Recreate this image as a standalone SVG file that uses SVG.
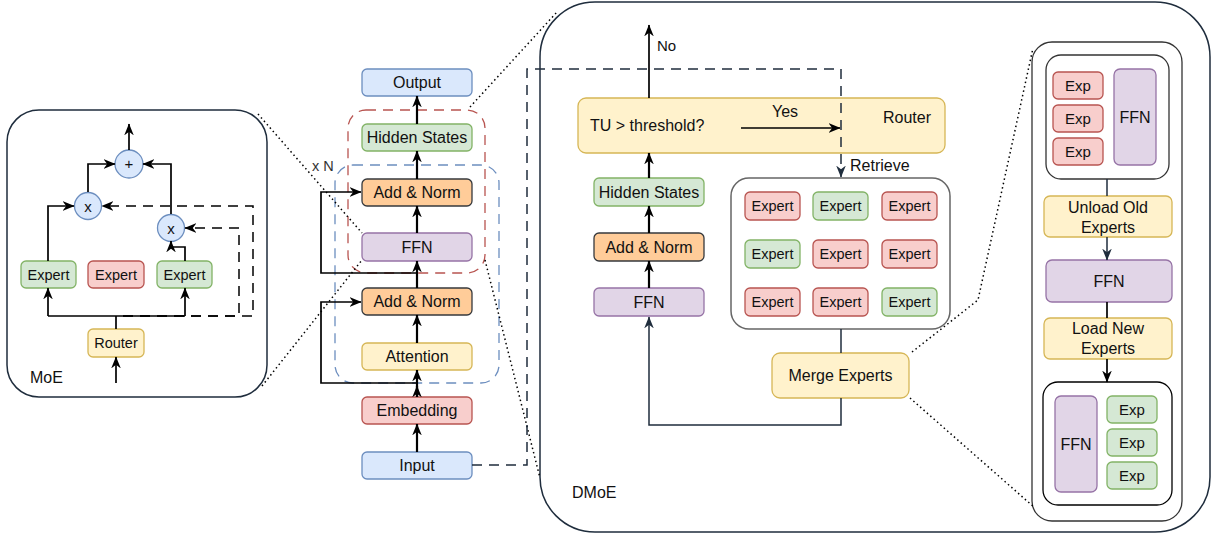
<svg xmlns="http://www.w3.org/2000/svg" width="1214" height="535" viewBox="0 0 1214 535">
<defs>
<marker id="ah" viewBox="0 0 10 10" refX="9.5" refY="5" markerWidth="12" markerHeight="12" markerUnits="userSpaceOnUse" orient="auto"><path d="M0,1 L10,5 L0,9 L3,5 z" fill="#000"/></marker>
<marker id="ahn" viewBox="0 0 10 10" refX="9.5" refY="5" markerWidth="12" markerHeight="12" markerUnits="userSpaceOnUse" orient="auto"><path d="M0,1 L10,5 L0,9 L3,5 z" fill="#1f2d3d"/></marker>
</defs>
<style>
text{font-family:"Liberation Sans",Arial,sans-serif;fill:#111;}
.c{text-anchor:middle;dominant-baseline:central;}
.f16{font-size:16px;}
.f15{font-size:15px;}
.f14{font-size:14.5px;}
.blue{fill:#dae8fc;stroke:#6c8ebf;stroke-width:1.3;}
.green{fill:#d5e8d4;stroke:#82b366;stroke-width:1.3;}
.red{fill:#f8cecc;stroke:#b85450;stroke-width:1.3;}
.orange{fill:#ffcc99;stroke:#36393d;stroke-width:1.3;}
.purple{fill:#e1d5e7;stroke:#9673a6;stroke-width:1.3;}
.yellow{fill:#fff2cc;stroke:#d6b656;stroke-width:1.3;}
.ln{fill:none;stroke:#000;stroke-width:1.7;}
.lnb{fill:none;stroke:#000;stroke-width:2.2;}
.nav{fill:none;stroke:#1f2d3d;stroke-width:1.5;}
.dash{fill:none;stroke:#000;stroke-width:1.5;stroke-dasharray:10 7;}
.dashn{fill:none;stroke:#1f2d3d;stroke-width:1.5;stroke-dasharray:10 7;}
.dot{fill:none;stroke:#000;stroke-width:1.5;stroke-dasharray:1.5 3;}
.panel{fill:#fff;stroke:#1f2d3d;stroke-width:1.5;}
</style>

<!-- MoE panel -->
<g id="moe">
<rect x="7" y="110" width="260" height="287" rx="32" class="panel"/>
<text x="30" y="377" class="f16" dominant-baseline="central">MoE</text>
</g>
<g id="moe-router"><rect x="88" y="329" width="56" height="28" rx="5" class="yellow"/><text x="116" y="343" class="c f14">Router</text></g>
<g id="moe-exp1"><rect x="21" y="261" width="55" height="27" rx="5" class="green"/><text x="48.5" y="274.5" class="c f14">Expert</text></g>
<g id="moe-exp2"><rect x="88" y="261" width="56" height="27" rx="5" class="red"/><text x="116" y="274.5" class="c f14">Expert</text></g>
<g id="moe-exp3"><rect x="157" y="261" width="55" height="27" rx="5" class="green"/><text x="184.5" y="274.5" class="c f14">Expert</text></g>
<g id="moe-mul1"><circle cx="88" cy="206" r="13.5" class="blue"/><text x="88" y="206" class="c f15">x</text></g>
<g id="moe-mul2"><circle cx="171" cy="228" r="13.5" class="blue"/><text x="171" y="228" class="c f15">x</text></g>
<g id="moe-add"><circle cx="129" cy="164" r="14" class="blue"/><text x="129" y="163" class="c f15">+</text></g>

<!-- Central column -->
<g id="c-output"><rect x="362" y="69" width="110" height="27" rx="5" class="blue"/><text x="417" y="82.5" class="c f16">Output</text></g>
<g id="c-hidden"><rect x="362" y="124" width="110" height="27" rx="5" class="green"/><text x="417" y="137.5" class="c f16">Hidden States</text></g>
<g id="c-addnorm2"><rect x="362" y="179" width="110" height="27" rx="5" class="orange"/><text x="417" y="192.5" class="c f16">Add &amp; Norm</text></g>
<g id="c-ffn"><rect x="362" y="233" width="110" height="28" rx="5" class="purple"/><text x="417" y="247" class="c f16">FFN</text></g>
<g id="c-addnorm1"><rect x="362" y="288" width="110" height="27" rx="5" class="orange"/><text x="417" y="301.5" class="c f16">Add &amp; Norm</text></g>
<g id="c-attn"><rect x="362" y="343" width="110" height="27" rx="5" class="yellow"/><text x="417" y="356.5" class="c f16">Attention</text></g>
<g id="c-embed"><rect x="362" y="397" width="110" height="27" rx="5" class="red"/><text x="417" y="410.5" class="c f16">Embedding</text></g>
<g id="c-input"><rect x="362" y="452" width="110" height="27" rx="5" class="blue"/><text x="417" y="465.5" class="c f16">Input</text></g>
<g id="c-groups">
<rect x="348" y="110" width="137" height="163" rx="18" fill="none" stroke="#b85450" stroke-width="1.3" stroke-dasharray="10 7"/>
<rect x="335" y="165" width="164" height="218" rx="18" fill="none" stroke="#6c8ebf" stroke-width="1.3" stroke-dasharray="10 7"/>
<text x="312" y="166" class="f14" dominant-baseline="central" style="fill:#333">x N</text>
</g>

<!-- DMoE panel -->
<g id="dmoe">
<rect x="540" y="2" width="670" height="530" rx="55" class="panel"/>
<text x="572" y="492" class="f16" dominant-baseline="central">DMoE</text>
</g>
<g id="d-router"><rect x="578" y="98" width="367" height="55" rx="8" class="yellow"/>
<text x="590" y="125" class="f16" dominant-baseline="central">TU &gt; threshold?</text>
<text x="883" y="117" class="f16" dominant-baseline="central">Router</text>
</g>
<g id="d-hidden"><rect x="594" y="178" width="110" height="28" rx="5" class="green"/><text x="649" y="192" class="c f16">Hidden States</text></g>
<g id="d-addnorm"><rect x="594" y="233" width="110" height="28" rx="5" class="orange"/><text x="649" y="247" class="c f16">Add &amp; Norm</text></g>
<g id="d-ffn"><rect x="594" y="288" width="110" height="28" rx="5" class="purple"/><text x="649" y="302" class="c f16">FFN</text></g>
<g id="d-experts">
<rect x="731" y="178" width="219" height="151" rx="18" fill="#fff" stroke="#666" stroke-width="1.5"/>
<rect x="745" y="192" width="55" height="28" rx="5" class="red"/><text x="772.5" y="206" class="c f14">Expert</text>
<rect x="813" y="192" width="55" height="28" rx="5" class="green"/><text x="840.5" y="206" class="c f14">Expert</text>
<rect x="882" y="192" width="55" height="28" rx="5" class="red"/><text x="909.5" y="206" class="c f14">Expert</text>
<rect x="745" y="240" width="55" height="28" rx="5" class="green"/><text x="772.5" y="254" class="c f14">Expert</text>
<rect x="813" y="240" width="55" height="28" rx="5" class="red"/><text x="840.5" y="254" class="c f14">Expert</text>
<rect x="882" y="240" width="55" height="28" rx="5" class="red"/><text x="909.5" y="254" class="c f14">Expert</text>
<rect x="745" y="288" width="55" height="28" rx="5" class="red"/><text x="772.5" y="302" class="c f14">Expert</text>
<rect x="813" y="288" width="55" height="28" rx="5" class="red"/><text x="840.5" y="302" class="c f14">Expert</text>
<rect x="882" y="288" width="55" height="28" rx="5" class="green"/><text x="909.5" y="302" class="c f14">Expert</text>
</g>
<g id="d-merge"><rect x="772" y="353" width="137" height="45" rx="8" class="yellow"/><text x="840.5" y="375.5" class="c f16">Merge Experts</text></g>

<!-- Right panel -->
<g id="r-panel"><rect x="1032" y="42" width="150" height="479" rx="20" fill="#fff" stroke="#333" stroke-width="1.3"/></g>
<g id="r-before">
<rect x="1046" y="55" width="123" height="124" rx="15" fill="#fff" stroke="#333" stroke-width="1.3"/>
<rect x="1053" y="72" width="50" height="27" rx="5" class="red"/><text x="1078" y="85.5" class="c f15">Exp</text>
<rect x="1053" y="105" width="50" height="27" rx="5" class="red"/><text x="1078" y="118.5" class="c f15">Exp</text>
<rect x="1053" y="138" width="50" height="27" rx="5" class="red"/><text x="1078" y="151.5" class="c f15">Exp</text>
<rect x="1114" y="69" width="42" height="96" rx="6" class="purple"/><text x="1135" y="117" class="c f16">FFN</text>
</g>
<g id="r-unload"><rect x="1044" y="196" width="128" height="41" rx="6" class="yellow"/><text x="1108" y="207" class="c f16">Unload Old</text><text x="1108" y="227" class="c f16">Experts</text></g>
<g id="r-ffn"><rect x="1046" y="260" width="126" height="42" rx="6" class="purple"/><text x="1109" y="281" class="c f16">FFN</text></g>
<g id="r-load"><rect x="1044" y="318" width="128" height="41" rx="6" class="yellow"/><text x="1108" y="328.5" class="c f16">Load New</text><text x="1108" y="348.5" class="c f16">Experts</text></g>
<g id="r-after">
<rect x="1043" y="382" width="129" height="123" rx="15" fill="#fff" stroke="#000" stroke-width="1.3"/>
<rect x="1055" y="396" width="42" height="96" rx="6" class="purple"/><text x="1076" y="444" class="c f16">FFN</text>
<rect x="1107" y="396" width="50" height="27" rx="5" class="green"/><text x="1132" y="409.5" class="c f15">Exp</text>
<rect x="1107" y="429" width="50" height="27" rx="5" class="green"/><text x="1132" y="442.5" class="c f15">Exp</text>
<rect x="1107" y="462" width="50" height="27" rx="5" class="green"/><text x="1132" y="475.5" class="c f15">Exp</text>
</g>

<!-- Connectors -->
<g id="connectors">
<!-- MoE -->
<path d="M116,383 V357" class="ln" marker-end="url(#ah)"/>
<path d="M116,329 V316" class="ln"/>
<path d="M48,316 H185" class="ln"/>
<path d="M48,316 V288" class="ln" marker-end="url(#ah)"/>
<path d="M185,316 V288" class="ln" marker-end="url(#ah)"/>
<path d="M48,261 V206 H74" class="ln" marker-end="url(#ah)"/>
<path d="M185,261 V247 H171 V241" class="ln" marker-end="url(#ah)"/>
<path d="M88,192 V164 H115" class="ln" marker-end="url(#ah)"/>
<path d="M171,214 V164 H143" class="ln" marker-end="url(#ah)"/>
<path d="M129,150 V124" class="ln" marker-end="url(#ah)"/>
<path d="M123,316 H253 V206 H102" class="dash" marker-end="url(#ah)"/>
<path d="M123,316 H239 V228 H185" class="dash" marker-end="url(#ah)"/>
<!-- central -->
<path d="M417,452 V424" class="lnb" marker-end="url(#ah)"/>
<path d="M417,397 V370" class="lnb" marker-end="url(#ah)"/>
<path d="M417,397 V386" class="lnb" marker-end="url(#ah)"/>
<path d="M417,343 V315" class="lnb" marker-end="url(#ah)"/>
<path d="M417,288 V261" class="lnb" marker-end="url(#ah)"/>
<path d="M417,233 V206" class="lnb" marker-end="url(#ah)"/>
<path d="M417,179 V151" class="lnb" marker-end="url(#ah)"/>
<path d="M417,124 V96" class="lnb" marker-end="url(#ah)"/>
<path d="M417,383 H321 V302 H361" class="ln" marker-end="url(#ah)"/>
<path d="M417,273 H321 V192 H361" class="ln" marker-end="url(#ah)"/>
<!-- dotted zoom lines -->
<path d="M258,114 L362,233" class="dot"/>
<path d="M262,386 L362,260" class="dot"/>
<path d="M470,107 L557,12" class="dot"/>
<path d="M485,260 L540,478" class="dot"/>
<path d="M912,352 L978,300 L1033,48" class="dot"/>
<path d="M910,398 L1035,508" class="dot"/>
<!-- input to DMoE -->
<path d="M472,465 H527 V69 H841 V177" class="dashn" marker-end="url(#ahn)"/>
<!-- DMoE -->
<path d="M741,128 H840" class="ln" marker-end="url(#ah)"/>
<text x="785" y="111" class="c f16">Yes</text>
<path d="M649,98 V25" class="ln" marker-end="url(#ah)"/>
<text x="657" y="45" class="f15" dominant-baseline="central">No</text>
<text x="850" y="165" class="f16" dominant-baseline="central">Retrieve</text>
<path d="M649,178 V153" class="lnb" marker-end="url(#ah)"/>
<path d="M649,233 V206" class="lnb" marker-end="url(#ah)"/>
<path d="M649,288 V261" class="lnb" marker-end="url(#ah)"/>
<path d="M841,329 V353" class="nav"/>
<path d="M841,398 V425 H649 V317" class="nav" marker-end="url(#ahn)"/>
<!-- right panel -->
<path d="M1107,179 V196" class="nav"/>
<path d="M1107,237 V260" class="nav" marker-end="url(#ahn)"/>
<path d="M1107,302 V318" class="ln"/>
<path d="M1107,359 V382" class="ln" marker-end="url(#ah)"/>
</g>
</svg>
